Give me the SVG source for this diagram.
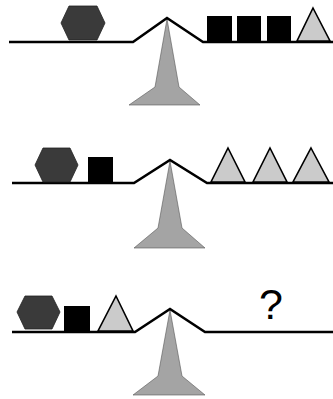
<svg xmlns="http://www.w3.org/2000/svg" width="333" height="399" viewBox="0 0 333 399">
<defs>
<style>
.beam{fill:none;stroke:#000;stroke-width:2.6;stroke-linejoin:miter}
.fulcrum{fill:#a4a4a4;stroke:#555;stroke-width:0.6}
.hex{fill:#3a3a3a;stroke:#222;stroke-width:0.8}
.sq{fill:#000}
.tri{fill:#cbcbcb;stroke:#000;stroke-width:1.6;stroke-linejoin:miter}
.q{font-family:"Liberation Sans",Arial,sans-serif;font-size:43px;fill:#000}
</style>
</defs>
<rect width="333" height="399" fill="#fff"/>
<g id="panel1">
  <g id="fulcrum1"><polygon class="fulcrum" points="167,19 155,87 129,105 200,105 179,87"/></g>
  <g id="beam1"><polyline class="beam" points="9,42 133,42 167,18 203,42 333,42"/></g>
  <g id="hex1"><polygon class="hex" points="61,23 69,6 97,6 105,23 97,40 69,40"/></g>
  <g id="sq1a"><rect class="sq" x="207" y="16" width="25" height="26"/></g>
  <g id="sq1b"><rect class="sq" x="237" y="16" width="24" height="26"/></g>
  <g id="sq1c"><rect class="sq" x="267" y="16" width="24" height="26"/></g>
  <g id="tri1"><polygon class="tri" points="313,8 330,41 297,41"/></g>
</g>
<g id="panel2">
  <g id="fulcrum2"><polygon class="fulcrum" points="170,161 158,228 134,248 205,248 182,228"/></g>
  <g id="beam2"><polyline class="beam" points="12,183 134,183 170,160 207,183 333,183"/></g>
  <g id="hex2"><polygon class="hex" points="35,165 43,148 70,148 78,165 70,182 43,182"/></g>
  <g id="sq2"><rect class="sq" x="88" y="157" width="25" height="26"/></g>
  <g id="tri2a"><polygon class="tri" points="228,148 245,182 211,182"/></g>
  <g id="tri2b"><polygon class="tri" points="270,148 287,182 253,182"/></g>
  <g id="tri2c"><polygon class="tri" points="311,148 329,182 293,182"/></g>
</g>
<g id="panel3">
  <g id="fulcrum3"><polygon class="fulcrum" points="170,310 158,376 133,395 205,395 182,376"/></g>
  <g id="beam3"><polyline class="beam" points="12,332 135,332 170,309 205,332 333,332"/></g>
  <g id="hex3"><polygon class="hex" points="17,312 25,296 52,296 60,312 52,329 25,329"/></g>
  <g id="sq3"><rect class="sq" x="64" y="306" width="26" height="26"/></g>
  <g id="tri3"><polygon class="tri" points="116,296 133,331 98,331"/></g>
  <g id="question"><text class="q" x="271" y="319" text-anchor="middle">?</text></g>
</g>
</svg>
